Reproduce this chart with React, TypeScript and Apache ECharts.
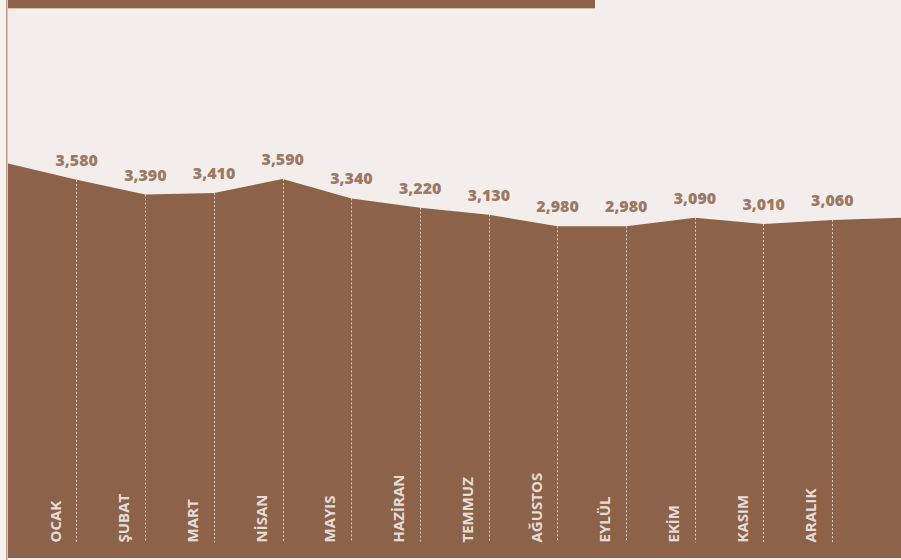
import React, { useEffect, useRef } from "react";
import * as echarts from "echarts";

const months = ["OCAK", "ŞUBAT", "MART", "NİSAN", "MAYIS", "HAZİRAN", "TEMMUZ", "AĞUSTOS", "EYLÜL", "EKİM", "KASIM", "ARALIK"];
const values = [3580, 3390, 3410, 3590, 3340, 3220, 3130, 2980, 2980, 3090, 3010, 3060];
const edgeStart = 3790;
const edgeEnd = 3090;

const BROWN = "#8c6249";
const BG = "#f3eeeb";
const LABEL_BASE = -1100;

export default function App() {
  const ref = useRef<HTMLDivElement>(null);
  useEffect(() => {
    if (!ref.current) return;
    const chart = echarts.init(ref.current, undefined, { renderer: "svg" });
    const categories = ["start", ...months, "end"];
    const areaData: any[] = [edgeStart, ...values, edgeEnd];
    const lines = values.map((v, i) => [
      { coord: [i + 1, v] },
      { coord: [i + 1, LABEL_BASE] },
    ]);
    chart.setOption({
      animation: false,
      backgroundColor: BG,
      grid: { left: 8, right: 0, top: 0, bottom: 2 },
      xAxis: {
        type: "category",
        data: categories,
        boundaryGap: false,
        axisLine: { show: false },
        axisTick: { show: false },
        axisLabel: { show: false },
        splitLine: { show: false },
      },
      yAxis: {
        type: "value",
        min: -1300,
        max: 5900,
        axisLine: { show: false },
        axisTick: { show: false },
        axisLabel: { show: false },
        splitLine: { show: false },
      },
      graphic: [
        { type: "rect", shape: { x: 0, y: 0, width: 7, height: 560 }, style: { fill: "#f7f1ee" }, silent: true },
        { type: "rect", shape: { x: 6, y: 0, width: 1.5, height: 560 }, style: { fill: "#b89c8d" }, silent: true },
        { type: "rect", shape: { x: 8, y: 0, width: 587, height: 8 }, style: { fill: BROWN }, silent: true },
        { type: "rect", shape: { x: 8, y: 8, width: 587, height: 1 }, style: { fill: "#dcc2b5" }, silent: true },
      ],
      series: [
        {
          type: "line",
          data: areaData,
          symbol: "none",
          lineStyle: { width: 0 },
          areaStyle: { color: BROWN, opacity: 1, origin: "start" },
          markLine: {
            silent: true,
            symbol: ["none", "none"],
            label: { show: false },
            lineStyle: { color: "rgba(255,255,255,0.65)", type: [2, 2], width: 1 },
            data: lines,
          },
          z: 2,
        },
        {
          type: "scatter",
          data: values.map((v, i) => [i + 1, v]),
          symbolSize: 0,
          silent: true,
          label: {
            show: true,
            position: "top",
            distance: 12,
            color: "#85593f",
            fontFamily: "Open Sans",
            fontWeight: 800,
            fontSize: 16,
            formatter: (p: any) => Number(p.value[1]).toLocaleString("en-US"),
          },
          z: 3,
        },
        {
          type: "scatter",
          data: months.map((m, i) => ({ value: [i + 1, LABEL_BASE], name: m })),
          symbolSize: 0,
          silent: true,
          label: {
            show: true,
            position: "inside",
            rotate: 90,
            align: "left",
            verticalAlign: "middle",
            offset: [0, -22],
            color: "#ffffff",
            fontFamily: "Open Sans",
            fontWeight: "bold",
            fontSize: 15,
            formatter: (p: any) => p.name,
          },
          z: 3,
        },
      ],
    });
    return () => chart.dispose();
  }, []);
  return <div ref={ref} style={{ position: "absolute", left: 0, top: 0, width: 901, height: 560 }} />;
}
